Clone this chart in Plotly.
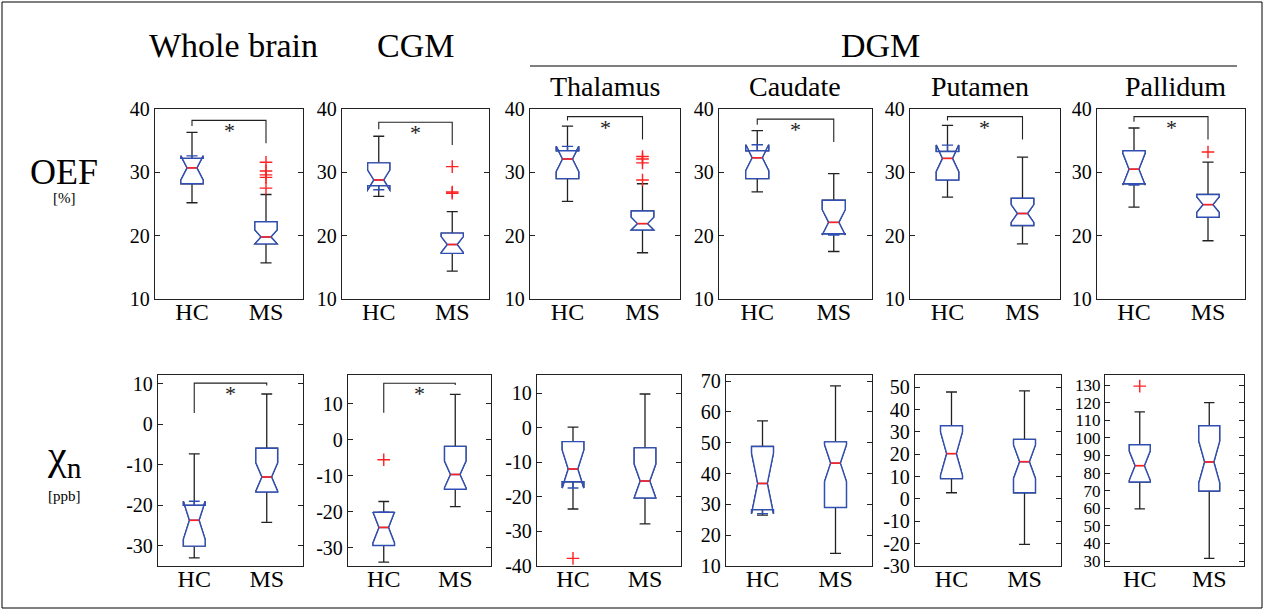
import plotly.graph_objects as go

W, H = 1266, 611
groups = ["HC", "MS"]
top_titles = ["Whole brain", "CGM"]
dgm_titles = ["Thalamus", "Caudate", "Putamen", "Pallidum"]

# ---- OEF [%] row: per panel [HC, MS]
oef_q1 = [[28.2, 18.7], [27.9, 17.2], [29.0, 20.9], [29.0, 20.3], [28.8, 21.6], [28.2, 22.9]]
oef_med = [[30.7, 19.8], [28.8, 18.6], [32.1, 21.9], [32.3, 22.1], [32.2, 23.5], [30.5, 24.9]]
oef_q3 = [[32.2, 22.2], [31.5, 20.4], [33.4, 23.9], [33.4, 25.6], [33.3, 25.9], [33.4, 26.5]]
oef_lo = [[25.2, 15.7], [26.2, 14.4], [25.4, 17.3], [26.9, 17.5], [26.1, 18.7], [24.5, 19.2]]
oef_hi = [[36.3, 26.5], [35.7, 23.8], [37.3, 28.2], [36.6, 29.8], [37.4, 32.4], [37.0, 31.6]]
oef_notch = [[1.9, 1.1], [1.55, 1.25], [2.0, 1.0], [2.05, 2.0], [2.1, 1.4], [2.5, 1.2]]
oef_out = [[[], [31.6, 30.2, 29.6, 29.2, 27.5]], [[], [30.9, 26.9, 26.7]],
           [[], [32.5, 32.1, 31.5, 28.8]], [[], []], [[], []], [[], [33.2]]]

# ---- chi_n [ppb] row
chi_q1 = [[-30.1, -16.7], [-29.3, -13.7], [-15.6, -20.3], [28.3, 29.0], [9.1, 2.8], [74.9, 69.8]]
chi_med = [[-23.7, -13.0], [-24.3, -9.6], [-11.9, -15.4], [36.8, 43.4], [20.3, 16.7], [84.2, 86.3]]
chi_q3 = [[-20.0, -5.9], [-20.1, -1.8], [-4.0, -5.8], [48.8, 50.3], [32.8, 26.7], [96.1, 106.9]]
chi_lo = [[-33.0, -24.2], [-33.9, -18.5], [-23.5, -27.8], [26.5, 14.1], [2.8, -20.3], [59.7, 31.5]]
chi_hi = [[-7.3, 7.5], [-17.1, 12.6], [0.2, 9.8], [57.1, 68.5], [47.9, 48.4], [114.8, 120.0]]
chi_notch = [[4.7, 3.5], [4.3, 3.7], [5.5, 4.9], [9.8, 6.0], [9.7, 7.5], [8.3, 11.8]]
chi_out = [[[], []], [[-5.5], []], [[-37.8], []], [[], []], [[], []], [[129.4], []]]

oef_range = [10, 40]
chi_ranges = [[-35, 12.2], [-35, 18], [-40, 15.3], [10, 72], [-30, 55.5], [27.2, 135.7]]

# tick labels
oef_ticks = [10, 20, 30, 40]
chi_ticks = [[-30, -20, -10, 0, 10],
             [-30, -20, -10, 0, 10],
             [-40, -30, -20, -10, 0, 10],
             [10, 20, 30, 40, 50, 60, 70],
             [-30, -20, -10, 0, 10, 20, 30, 40, 50],
             [30, 40, 50, 60, 70, 80, 90, 100, 110, 120, 130]]
chi_tick_size = [20, 20, 20, 20, 20, 17]

# significance brackets: (top, left drop, right drop) or None
oef_br = [[38.2, 37.3, 34.6], [37.9, 36.8, 34.3], [38.8, 38.2, 35.2],
          [38.4, 37.5, 34.8], [38.8, 38.2, 35.2], [38.8, 38.0, 35.2]]
chi_br = [[10.2, 2.8, 9.6], [15.7, 7.5, 15.2], None, None, None, None]

# ---- layout geometry (pixels)
top_x = [(155, 303), (342, 489), (530, 680), (719, 872), (910, 1060), (1097, 1245)]
bot_x = [(158, 303), (348, 491), (537, 681), (726, 872), (915, 1061), (1105, 1244)]
top_y = (109, 299)
bot_y = (375, 566)

FONT = "Liberation Serif, Times New Roman, serif"
BLUE = "#2f4fb5"
RED = "#ff2020"
DARK = "#222222"
BW = 0.3     # box width (data units)
NW = 0.28    # notch inset


def px(x):
    return x / W


def py(y):
    return 1 - y / H


fig = go.Figure()
shapes = []
annotations = []


def add_panel(idx, xs, ys, q1, med, q3, lo, hi, notch, outs, yrange, ticks, br, tsize):
    ax = "" if idx == 1 else str(idx)
    xa, ya = "x" + ax, "y" + ax
    for g in range(2):
        common = dict(x=[g], q1=[q1[g]], median=[med[g]], q3=[q3[g]],
                      notched=True, notchspan=[notch[g]], notchwidth=NW,
                      width=BW, whiskerwidth=0.5, boxpoints=False,
                      fillcolor="white", xaxis=xa, yaxis=ya,
                      showlegend=False, hoverinfo="skip")
        fig.add_trace(go.Box(lowerfence=[lo[g]], upperfence=[hi[g]],
                             line=dict(color=DARK, width=1.3), **common))
        fig.add_trace(go.Box(lowerfence=[q1[g]], upperfence=[q3[g]],
                             line=dict(color=BLUE, width=1.4), **common))
        hw = BW / 2 * (1 - 2 * NW)
        fig.add_trace(go.Scatter(x=[g - hw, g + hw], y=[med[g], med[g]], mode="lines",
                                 line=dict(color=RED, width=1.6), xaxis=xa, yaxis=ya,
                                 showlegend=False, hoverinfo="skip"))
        if outs[g]:
            fig.add_trace(go.Scatter(x=[g] * len(outs[g]), y=outs[g], mode="markers",
                                     marker=dict(symbol="cross-thin", size=9,
                                                 line=dict(color=RED, width=1.4)),
                                     xaxis=xa, yaxis=ya, showlegend=False, hoverinfo="skip"))
    if br:
        ytop, yl, yr = br
        fig.add_trace(go.Scatter(x=[0, 0, 1, 1], y=[yl, ytop, ytop, yr], mode="lines",
                                 line=dict(color=DARK, width=1.1), xaxis=xa, yaxis=ya,
                                 showlegend=False, hoverinfo="skip"))
        annotations.append(dict(x=0.5, y=ytop, xref=xa, yref=ya, text="*", showarrow=False,
                                xanchor="center", yanchor="top", yshift=4,
                                font=dict(family=FONT, size=22, color=DARK)))
    fig.layout["xaxis" + ax] = dict(domain=[px(xs[0]), px(xs[1])], range=[-0.5, 1.5],
                                    anchor=ya, tickvals=[0, 1], ticktext=groups, ticks="",
                                    ticklabelstandoff=-9,
                                    showline=True, mirror=True, linecolor=DARK, linewidth=1.3,
                                    showgrid=False, zeroline=False, automargin=False,
                                    tickfont=dict(family=FONT, size=24, color="black"))
    fig.layout["yaxis" + ax] = dict(domain=[py(ys[1]), py(ys[0])], range=yrange,
                                    tickvals=ticks, ticktext=[str(t) for t in ticks],
                                    anchor=xa, ticks="inside", ticklen=5, tickcolor=DARK,
                                    showline=True, mirror="ticks", linecolor=DARK, linewidth=1.3,
                                    showgrid=False, zeroline=False, automargin=False,
                                    tickfont=dict(family=FONT, size=tsize, color="black"))


for i in range(6):
    add_panel(i + 1, top_x[i], top_y, oef_q1[i], oef_med[i], oef_q3[i], oef_lo[i], oef_hi[i],
              oef_notch[i], oef_out[i], oef_range, oef_ticks, oef_br[i], 20)
for i in range(6):
    add_panel(i + 7, bot_x[i], bot_y, chi_q1[i], chi_med[i], chi_q3[i], chi_lo[i], chi_hi[i],
              chi_notch[i], chi_out[i], chi_ranges[i], chi_ticks[i], chi_br[i], chi_tick_size[i])


def text(x, y, s, size):
    annotations.append(dict(x=px(x), y=py(y), xref="paper", yref="paper", text=s,
                            xanchor="center", yanchor="middle",
                            showarrow=False, font=dict(family=FONT, size=size, color="black")))


text(233, 45, top_titles[0], 34)
text(415, 45, top_titles[1], 34)
text(880, 45, "DGM", 34)
for cx, s in zip([605, 795, 980, 1175], dgm_titles):
    text(cx, 86, s, 28)
text(64, 172, "OEF", 36)
text(64, 198, "[%]", 15)
text(64, 458, "χ<sub>n</sub>", 42)
text(64, 496, "[ppb]", 15)

shapes.append(dict(type="line", xref="paper", yref="paper", x0=px(530), x1=px(1237),
                   y0=py(66), y1=py(66), line=dict(color="black", width=1.2)))
shapes.append(dict(type="rect", xref="paper", yref="paper", x0=px(2), x1=px(1262),
                   y0=py(608), y1=py(2), line=dict(color="black", width=1)))

fig.update_layout(width=W, height=H, margin=dict(l=0, r=0, t=0, b=0, autoexpand=False),
                  paper_bgcolor="white", plot_bgcolor="white", boxmode="overlay",
                  shapes=shapes, annotations=annotations, showlegend=False)
fig.write_html("out.html", config={"displayModeBar": False},
               post_script="document.body.style.margin='0';")
